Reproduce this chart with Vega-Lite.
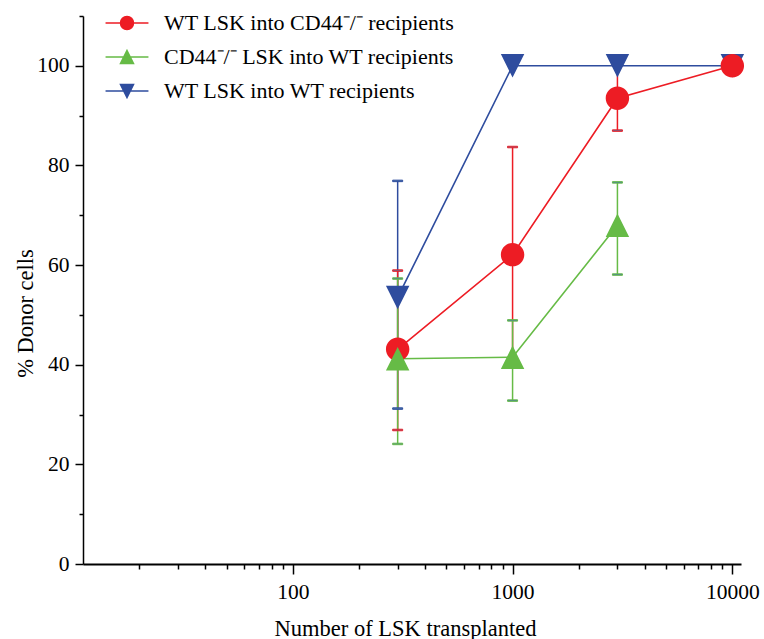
{
  "$schema": "https://vega.github.io/schema/vega-lite/v6.json",
  "width": 658,
  "height": 548,
  "autosize": {"type": "none"},
  "padding": {"left": 83, "top": 16, "right": 23, "bottom": 75},
  "background": "white",
  "config": {
    "view": {"stroke": null},
    "font": "Liberation Serif",
    "axis": {
      "labelFont": "Liberation Serif",
      "titleFont": "Liberation Serif",
      "labelColor": "black",
      "titleColor": "black",
      "tickColor": "black",
      "domainColor": "black",
      "grid": false,
      "titleFontWeight": "normal",
      "labelFontSize": 21.5,
      "titleFontSize": 22.5
    },
    "legend": {
      "labelFont": "Liberation Serif",
      "labelFontSize": 22,
      "labelColor": "black",
      "labelLimit": 400
    }
  },
  "data": {
    "values": [
      {"series": "WT LSK into WT recipients", "n": 300, "pct": 53.5, "lo": 31.2, "hi": 76.9},
      {"series": "WT LSK into WT recipients", "n": 1000, "pct": 100, "lo": null, "hi": null},
      {"series": "WT LSK into WT recipients", "n": 3000, "pct": 100, "lo": null, "hi": null},
      {"series": "WT LSK into WT recipients", "n": 10000, "pct": 100, "lo": null, "hi": null},
      {"series": "WT LSK into CD44⁻/⁻ recipients", "n": 300, "pct": 43.1, "lo": 26.9, "hi": 58.9},
      {"series": "WT LSK into CD44⁻/⁻ recipients", "n": 1000, "pct": 62.1, "lo": 40.5, "hi": 83.7},
      {"series": "WT LSK into CD44⁻/⁻ recipients", "n": 3000, "pct": 93.5, "lo": 87.0, "hi": 100.1},
      {"series": "WT LSK into CD44⁻/⁻ recipients", "n": 10000, "pct": 100, "lo": null, "hi": null},
      {"series": "CD44⁻/⁻ LSK into WT recipients", "n": 300, "pct": 41.2, "lo": 24.1, "hi": 57.3},
      {"series": "CD44⁻/⁻ LSK into WT recipients", "n": 1000, "pct": 41.5, "lo": 32.8, "hi": 48.9},
      {"series": "CD44⁻/⁻ LSK into WT recipients", "n": 3000, "pct": 68.0, "lo": 58.1, "hi": 76.6}
    ]
  },
  "resolve": {"axis": {"x": "independent", "y": "independent"}},
  "layer": [
    {
      "mark": {"type": "line", "strokeWidth": 1.6},
      "encoding": {
        "x": {"field": "n", "type": "quantitative",
              "scale": {"type": "log", "domain": [11.1, 10950], "nice": false, "zero": false},
              "axis": {"orient": "bottom", "values": [100, 1000, 10000], "format": "d", "tickSize": 10, "tickWidth": 1.5, "domainWidth": 2,
                       "labelPadding": 7, "title": "Number of LSK transplanted", "titleX": 322, "titleY": 71, "titleBaseline": "alphabetic"}},
        "y": {"field": "pct", "type": "quantitative",
              "scale": {"domain": [0, 110], "nice": false},
              "axis": {"orient": "left", "values": [0, 20, 40, 60, 80, 100], "tickSize": 8, "tickWidth": 1.5, "domainWidth": 1.5,
                       "labelPadding": 6, "title": "% Donor cells", "titleX": -51, "titleY": 297, "titleBaseline": "alphabetic"}},
        "stroke": {"field": "series", "type": "nominal", "title": null,
                   "scale": {"domain": ["WT LSK into CD44⁻/⁻ recipients", "CD44⁻/⁻ LSK into WT recipients", "WT LSK into WT recipients"],
                             "range": ["#ED1C24", "#66BB46", "#2E4C9E"]},
                   "legend": {
                     "orient": "none", "legendX": 33, "legendY": -4, "padding": 0,
                     "symbolSize": 169, "symbolOpacity": 1, "symbolStrokeWidth": 1.5,
                     "rowPadding": 12, "labelOffset": 26
                   }}
      }
    },
    {
      "mark": {"type": "rule", "strokeWidth": 1.5},
      "encoding": {
        "x": {"field": "n", "type": "quantitative",
              "axis": {"orient": "bottom", "values": [20, 30, 40, 50, 60, 70, 80, 90, 200, 300, 400, 500, 600, 700, 800, 900, 2000, 3000, 4000, 5000, 6000, 7000, 8000, 9000],
                       "labels": false, "domain": false, "tickSize": 5, "tickWidth": 1.5, "title": null}},
        "y": {"field": "lo", "type": "quantitative",
              "axis": {"orient": "left", "values": [10, 30, 50, 70, 90, 110], "labels": false, "domain": false, "tickSize": 4, "tickWidth": 1.5, "title": null}},
        "y2": {"field": "hi"},
        "stroke": {"field": "series", "type": "nominal", "title": null}
      }
    },
    {
      "mark": {"type": "tick", "orient": "horizontal", "size": 10, "thickness": 1.5, "opacity": 1},
      "encoding": {
        "x": {"field": "n", "type": "quantitative", "axis": null},
        "y": {"field": "lo", "type": "quantitative", "axis": null},
        "stroke": {"field": "series", "type": "nominal", "title": null}
      }
    },
    {
      "mark": {"type": "tick", "orient": "horizontal", "size": 10, "thickness": 1.5, "opacity": 1},
      "encoding": {
        "x": {"field": "n", "type": "quantitative", "axis": null},
        "y": {"field": "hi", "type": "quantitative", "axis": null},
        "stroke": {"field": "series", "type": "nominal", "title": null}
      }
    },
    {
      "mark": {"type": "point", "filled": true, "opacity": 1, "size": 550, "strokeWidth": 0},
      "encoding": {
        "x": {"field": "n", "type": "quantitative", "axis": null},
        "y": {"field": "pct", "type": "quantitative", "axis": null},
        "color": {"field": "series", "type": "nominal", "title": null,
                  "scale": {"domain": ["WT LSK into CD44⁻/⁻ recipients", "CD44⁻/⁻ LSK into WT recipients", "WT LSK into WT recipients"],
                            "range": ["#ED1C24", "#66BB46", "#2E4C9E"]}},
        "shape": {"field": "series", "type": "nominal", "title": null,
                  "scale": {"domain": ["WT LSK into CD44⁻/⁻ recipients", "CD44⁻/⁻ LSK into WT recipients", "WT LSK into WT recipients"],
                            "range": ["M-3.3,0H3.3M-1,0A1,1,0,1,0,1,0A1,1,0,1,0,-1,0Z", "M-3.3,0H3.3M0,-1L1,1L-1,1Z", "M-3.3,0H3.3M-1,-1L1,-1L0,1Z"]}}
      }
    }
  ]
}
